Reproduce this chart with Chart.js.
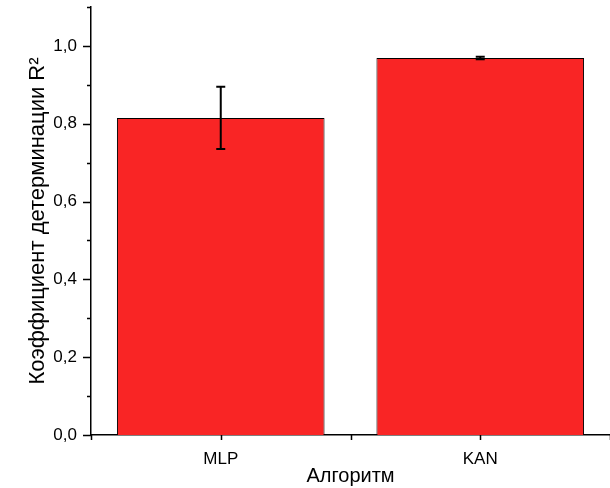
<!DOCTYPE html>
<html>
<head>
<meta charset="utf-8">
<script src="https://cdn.jsdelivr.net/npm/chart.js@4/dist/chart.umd.min.js"></script>
<style>
  html, body { margin: 0; padding: 0; background: #fff; }
  #wrap { width: 610px; height: 488px; }
</style>
</head>
<body>
<div id="wrap"><canvas id="r2Chart"></canvas></div>
<script>
// data
var categories = ["MLP", "KAN"];
var r2Values = [0.815, 0.969];
var r2Errors = [0.080, 0.003];
var yMin = 0, yMax = 1.1, yStep = 0.1;

const fontName = "'Liberation Sans', Arial, sans-serif";

function fmt(v) {
  return v.toFixed(1).replace(".", ",");
}

// error bars drawn from the dataset values
const errorBars = {
  id: "errorBars",
  afterDatasetsDraw(chart) {
    const ctx = chart.ctx;
    const yScale = chart.scales.y;
    const meta = chart.getDatasetMeta(0);
    ctx.save();
    ctx.strokeStyle = "#000";
    ctx.lineWidth = 2;
    meta.data.forEach((bar, i) => {
      const top = yScale.getPixelForValue(r2Values[i] + r2Errors[i]);
      const bot = yScale.getPixelForValue(r2Values[i] - r2Errors[i]);
      ctx.beginPath();
      ctx.moveTo(bar.x, top);
      ctx.lineTo(bar.x, bot);
      ctx.moveTo(bar.x - 4.5, top);
      ctx.lineTo(bar.x + 4.5, top);
      ctx.moveTo(bar.x - 4.5, bot);
      ctx.lineTo(bar.x + 4.5, bot);
      ctx.stroke();
    });
    ctx.restore();
  }
};

// outward tick marks, long on labelled ticks, short on the others
const tickMarks = {
  id: "tickMarks",
  afterDraw(chart) {
    const ctx = chart.ctx;
    const x = chart.scales.x, y = chart.scales.y;
    ctx.save();
    ctx.strokeStyle = "#000";
    ctx.lineWidth = 1.5;
    ctx.beginPath();
    y.ticks.forEach((t, i) => {
      const py = Math.round(y.getPixelForValue(t.value)) + 0.5;
      const len = i % 2 === 0 ? 8 : 4;
      ctx.moveTo(y.right - len, py);
      ctx.lineTo(y.right, py);
    });
    for (let i = -0.5; i <= categories.length - 0.5; i += 0.5) {
      const px = Math.round(x.getPixelForValue(i)) + 0.5;
      ctx.moveTo(px, x.top);
      ctx.lineTo(px, x.top + 5);
    }
    ctx.stroke();
    ctx.restore();
  }
};

new Chart("r2Chart", {
  type: "bar",
  data: {
    labels: categories,
    datasets: [{
      data: r2Values,
      backgroundColor: "#f92525",
      borderColor: "#000",
      borderWidth: 1,
      categoryPercentage: 1,
      barPercentage: 0.8
    }]
  },
  options: {
    responsive: true,
    maintainAspectRatio: false,
    animation: false,
    layout: { padding: { top: 7, right: 0, left: 0, bottom: 0 } },
    plugins: {
      legend: { display: false },
      tooltip: { enabled: false }
    },
    scales: {
      x: {
        offset: true,
        grid: { display: false, drawTicks: false },
        border: { display: true, color: "#000", width: 1.5 },
        ticks: {
          color: "#000",
          padding: 14,
          font: { family: fontName, size: 17 }
        },
        title: {
          display: true,
          text: "Алгоритм",
          color: "#000",
          padding: { top: 0, bottom: 0 },
          font: { family: fontName, size: 20 }
        },
        afterFit(scale) { scale.height = 53; }
      },
      y: {
        min: yMin,
        max: yMax,
        grid: { display: false, drawTicks: false },
        border: { display: true, color: "#000", width: 1.5 },
        ticks: {
          stepSize: yStep,
          color: "#000",
          padding: 14,
          font: { family: fontName, size: 17 },
          callback: (v, i) => (i % 2 === 0 ? fmt(v) : "")
        },
        title: {
          display: true,
          text: "Коэффициент детерминации R²",
          color: "#000",
          padding: { top: 25, bottom: 0 },
          font: { family: fontName, size: 22 }
        },
        afterFit(scale) {
          scale.width = 91;
          scale.paddingTop = 0;
          scale.paddingBottom = 0;
        }
      }
    }
  },
  plugins: [errorBars, tickMarks]
});
</script>
</body>
</html>
